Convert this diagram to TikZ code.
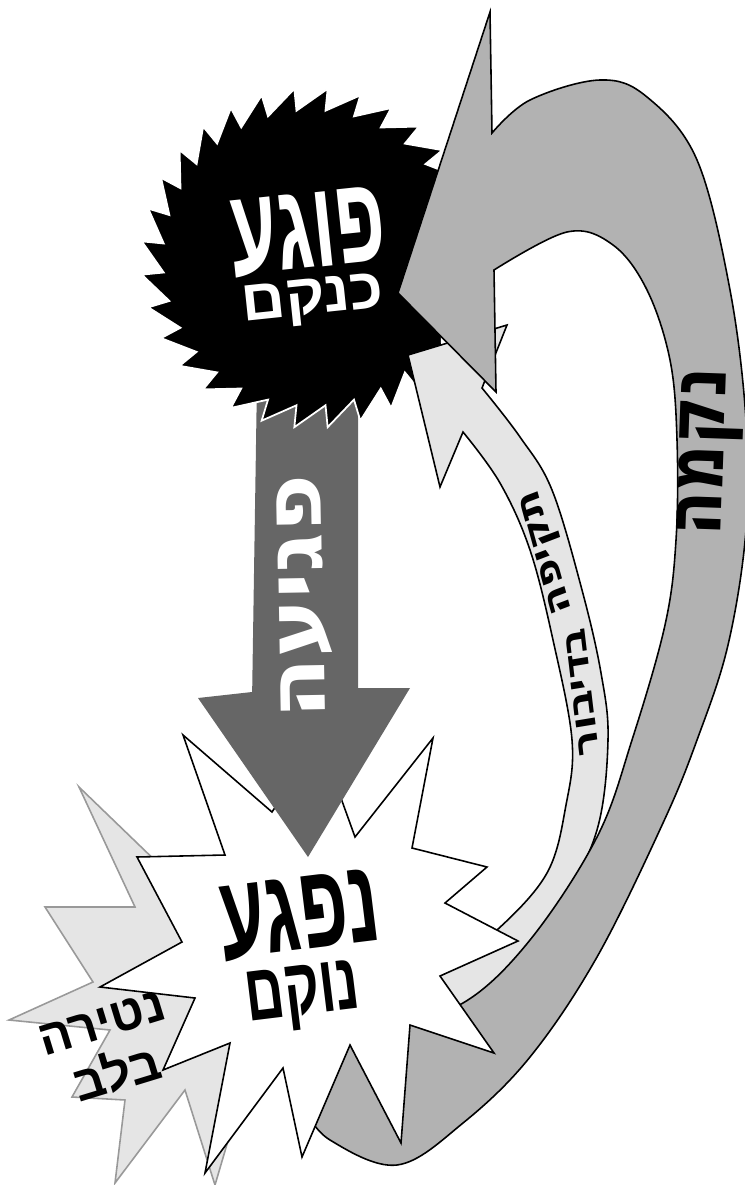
\documentclass[tikz,border=0pt]{standalone}
\usepackage{fontspec}
\TeXXeTstate=1
\newfontfamily\hebheavy[Script=Hebrew]{Liberation Sans}
\newfontfamily\hebround[Script=Hebrew]{DejaVu Sans}
\definecolor{harmgray}{gray}{0.40}
\definecolor{revgray}{gray}{0.70}
\definecolor{paleg}{gray}{0.90}
\definecolor{rimg}{gray}{0.60}
\tikzset{
  outl/.style       = {draw=black, line width=0.9pt},
  pogeword/.style   = {font=\hebheavy\bfseries\fontsize{70}{70}\selectfont,
                       text=white, inner sep=0pt},
  pogesub/.style    = {font=\hebheavy\bfseries\fontsize{33}{33}\selectfont,
                       text=white, inner sep=0pt},
  nifgaword/.style  = {font=\hebheavy\bfseries\fontsize{68}{68}\selectfont,
                       inner sep=0pt},
  nifgasub/.style   = {font=\hebheavy\bfseries\fontsize{46}{46}\selectfont,
                       inner sep=0pt},
  natiraword/.style = {font=\hebheavy\bfseries\fontsize{28}{31}\selectfont,
                       align=center, inner sep=0pt},
  bandword/.style   = {font=\hebround\bfseries\fontsize{46}{46}\selectfont,
                       inner sep=0pt},
  talkword/.style   = {font=\hebround\bfseries\fontsize{24}{24}\selectfont,
                       inner sep=0pt, xscale=0.85},
}
\begin{document}
\begin{tikzpicture}[x=0.02cm, y=-0.02cm]
  \useasboundingbox (0,0) rectangle (744,1185);
  % shaft of the harm arrow, under the offender burst
  \fill[harmgray] (257,380) -- (358,380) -- (358,702) -- (252,702) -- cycle;
  % offender burst
  \fill[black, draw=white, line width=1pt, shift={(311,258)}]
    (5.625:170) \foreach \k in {1,...,32}{ -- ({\k*11.25-5.625}:148) -- ({\k*11.25+5.625}:170)} -- cycle;
  % talk arrow (light)
  \filldraw[outl, fill=paleg]
    (463,432) -- (440,487) -- (408,355) -- (507,325) -- (482,388)
    -- plot[smooth, tension=0.6] coordinates {(482,388) (520,437) (552,490) (582,590) (601,673) (608,740) (597,830) (560,905) (505,975) (455,1025)}
    -- (410,985)
    -- plot[smooth, tension=0.6] coordinates {(410,985) (450,962) (497,930) (547,873) (566,805) (572,740) (553,640) (530,550) (500,483) (463,432)}
    -- cycle;
  % revenge arrow (big band)
  \filldraw[outl, fill=revgray]
    (398,293) -- (490,12) -- (492,133)
    -- plot[smooth, tension=0.6] coordinates {(492,133) (530,100) (600,80) (647,97) (697,160) (730,290) (746,420) (746,530) (728,645) (697,740) (663,823) (597,957) (530,1057) (463,1123) (397,1165) (330,1140) (305,1110)}
    -- (330,1035)
    -- plot[smooth, tension=0.6] coordinates {(330,1035) (390,1022) (463,1003) (530,940) (597,837) (632,740) (665,625) (676,540) (677,440) (670,360) (647,290) (613,245) (567,232) (494,270)}
    -- (496,392) -- cycle;
  % grudge burst
  \filldraw[fill=paleg, draw=rimg, line width=0.9pt]
    (79,787) -- (165,870) -- (260,900) -- (240,1100) -- (215,1185) -- (185,1090)
    -- (115,1183) -- (125,1100) -- (72,1097) -- (110,1030) -- (9,1020) -- (93,982)
    -- (45,907) -- (135,907) -- cycle;
  % victim burst
  \filldraw[outl, fill=white]
    (183,735) -- (272,812) -- (320,740) -- (355,837) -- (433,738) -- (412,848)
    -- (487,867) -- (445,903) -- (518,941) -- (440,976) -- (494,1053) -- (410,1025)
    -- (401,1143) -- (350,1045) -- (302,1157) -- (283,1068) -- (205,1173) -- (230,1043)
    -- (163,1070) -- (195,998) -- (100,987) -- (182,942) -- (137,857) -- (225,855) -- cycle;
  % head of the harm arrow, over the victim burst
  \fill[harmgray] (252,692) -- (198,698) -- (308,857) -- (410,688) -- (358,688) -- cycle;
  % labels
  \node[pogeword, rotate=6, xscale=0.62] (poge1) at (308,232) {\beginR פוגע\endR};
  \node[pogesub, rotate=6, xscale=1.05] (poge2) at (313,302) {\beginR כנקם\endR};
  \node[bandword, text=white, rotate=91, xscale=1.1] (pgia) at (305,597) {\beginR פגיעה\endR};
  \node[bandword, rotate=88, xscale=0.8] (nekama) at (711,452) {\beginR נקמה\endR};
  \node[nifgaword, rotate=7, xscale=0.62] (nifga1) at (300,915) {\beginR נפגע\endR};
  \node[nifgasub, rotate=7, xscale=0.67] (nifga2) at (303,998) {\beginR נוקם\endR};
  \node[natiraword, rotate=17] (natira) at (110,1050) {\beginR נטירה\endR\\\beginR בלב\endR};
  \node[talkword, rotate=108] (talk1) at (549,551) {\beginR תקיפה\endR};
  \node[talkword, rotate=98] (talk2) at (582,692) {\beginR בדיבור\endR};
\end{tikzpicture}
\end{document}
